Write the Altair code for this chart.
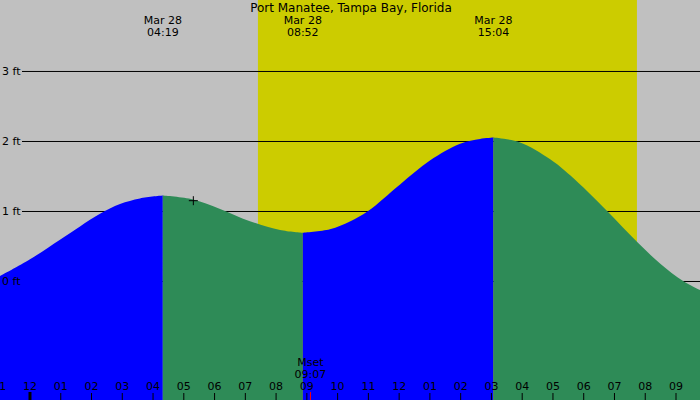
import altair as alt
import pandas as pd

# ---- data ----
title_text = "Port Manatee, Tampa Bay, Florida"
x_min, x_max = -0.975, 21.78       # hours relative to midnight Mar 28
y_min, y_max = -1.7, 4.014         # feet

rise1_h = [-0.975, 0.0, 0.975, 1.626, 2.276, 2.926, 3.576, 4.317]
rise1_ft = [0.07, 0.31, 0.59, 0.78, 0.96, 1.10, 1.18, 1.22]
fall1_h = [4.317, 5.30, 6.18, 7.15, 8.13, 8.867]
fall1_ft = [1.22, 1.165, 1.03, 0.855, 0.73, 0.69]
rise2_h = [8.867, 9.75, 10.40, 10.99, 12.03, 13.00, 13.98, 14.63, 15.067]
rise2_ft = [0.69, 0.74, 0.85, 1.00, 1.38, 1.72, 1.96, 2.03, 2.05]
fall2_h = [15.067, 15.93, 16.91, 17.56, 18.76, 19.73, 20.48, 21.23, 21.78]
fall2_ft = [2.05, 1.98, 1.74, 1.51, 1.00, 0.56, 0.25, 0.00, -0.13]

sunrise_h, sunset_h = 7.41, 19.73

event_h = [4.317, 8.867, 15.067]
event_date = ["Mar 28", "Mar 28", "Mar 28"]
event_time = ["04:19", "08:52", "15:04"]

grid_ft = [3, 2, 1, 0]
grid_labels = ["3 ft", "2 ft", "1 ft", "0 ft"]

hour_ticks = list(range(-1, 22))
midnight_h = [0]

moonset_h = 9.117
moonset_label = ["Mset", "09:07"]

marker_h, marker_ft = 5.31, 1.147

# ---- tables ----
rows = []
for seg, (hs, fs, kind) in enumerate([(rise1_h, rise1_ft, "rise"), (fall1_h, fall1_ft, "fall"),
                                       (rise2_h, rise2_ft, "rise"), (fall2_h, fall2_ft, "fall")]):
    for h, f in zip(hs, fs):
        rows.append({"h": h, "ft": f, "base": y_min, "seg": seg, "kind": kind})
tide = pd.DataFrame(rows)

xs = alt.Scale(domain=[x_min, x_max], nice=False, zero=False)
ys = alt.Scale(domain=[y_min, y_max], nice=False, zero=False)
FONT = "DejaVu Sans"
colors = {"rise": "#0000FF", "fall": "#2E8B57"}

day = alt.Chart(pd.DataFrame({"a": [sunrise_h], "b": [sunset_h]})).mark_rect(color="#CCCC00").encode(
    x=alt.X("a:Q", scale=xs, axis=None), x2="b:Q", y=alt.value(0), y2=alt.value(400))

grid = alt.Chart(pd.DataFrame({"ft": grid_ft})).mark_rule(color="black", strokeWidth=1, yOffset=0.5).encode(
    y=alt.Y("ft:Q", scale=ys, axis=None), x=alt.value(22), x2=alt.value(700))

areas = []
for seg in range(4):
    sub = tide[tide.seg == seg]
    kind = sub.kind.iloc[0]
    areas.append(
        alt.Chart(sub).mark_area(interpolate="catmull-rom", color=colors[kind], opacity=1).encode(
            x=alt.X("h:Q", scale=xs, axis=None),
            y=alt.Y("ft:Q", scale=ys, axis=None),
            y2="base:Q",
        )
    )

ylab = alt.Chart(pd.DataFrame({"ft": grid_ft, "t": grid_labels})).mark_text(
    align="left", baseline="alphabetic", dy=4, font=FONT, fontSize=11, color="black").encode(
    x=alt.value(2), y=alt.Y("ft:Q", scale=ys, axis=None), text="t:N")

ticks = alt.Chart(pd.DataFrame({"h": hour_ticks})).mark_rule(color="black", strokeWidth=1).encode(
    x=alt.X("h:Q", scale=xs, axis=None), y=alt.value(393), y2=alt.value(400))

mid = alt.Chart(pd.DataFrame({"h": midnight_h})).mark_rule(color="black", strokeWidth=3).encode(
    x=alt.X("h:Q", scale=xs, axis=None), y=alt.value(392), y2=alt.value(400))

hlab = alt.Chart(pd.DataFrame({"h": hour_ticks})).transform_calculate(
    v="((datum.h + 11) % 12 + 12) % 12 + 1"
).transform_calculate(
    lab="(datum.v < 10 ? '0' : '') + datum.v"
).mark_text(align="center", baseline="alphabetic", font=FONT, fontSize=11, color="black").encode(
    x=alt.X("h:Q", scale=xs, axis=None), y=alt.value(390), text="lab:N")

mset_tick = alt.Chart(pd.DataFrame({"h": [moonset_h]})).mark_rule(color="red", strokeWidth=1).encode(
    x=alt.X("h:Q", scale=xs, axis=None), y=alt.value(392), y2=alt.value(400))

mset_txt = alt.Chart(pd.DataFrame({"h": [moonset_h, moonset_h], "t": moonset_label, "yy": [366, 378]})).mark_text(
    align="center", baseline="alphabetic", font=FONT, fontSize=11, color="black").encode(
    x=alt.X("h:Q", scale=xs, axis=None), y=alt.Y("yy:Q", scale=None), text="t:N")

ev = pd.DataFrame({"h": event_h, "d": event_date, "t": event_time})
ev_date = alt.Chart(ev).mark_text(align="center", baseline="alphabetic", font=FONT, fontSize=11, color="black").encode(
    x=alt.X("h:Q", scale=xs, axis=None), y=alt.value(24), text="d:N")
ev_time = alt.Chart(ev).mark_text(align="center", baseline="alphabetic", font=FONT, fontSize=11, color="black").encode(
    x=alt.X("h:Q", scale=xs, axis=None), y=alt.value(36), text="t:N")

title = alt.Chart(pd.DataFrame({"t": [title_text]})).mark_text(
    align="center", baseline="alphabetic", font=FONT, fontSize=12, color="black").encode(
    x=alt.value(351), y=alt.value(12), text="t:N")

marker = alt.Chart(pd.DataFrame({"h": [marker_h], "ft": [marker_ft]})).mark_point(
    shape="M-1,0L1,0M0,-1L0,1", size=81, filled=False, color="black", strokeWidth=1, opacity=1).encode(
    x=alt.X("h:Q", scale=xs, axis=None), y=alt.Y("ft:Q", scale=ys, axis=None))

chart = alt.layer(day, grid, *areas, ylab, ticks, mid, mset_tick, hlab, mset_txt, ev_date, ev_time, title, marker).properties(
    width=700, height=400, padding=0, autosize="none", background="#C0C0C0"
).configure_view(stroke=None, fill="#C0C0C0")

chart.save("out.html", embed_options={"renderer": "svg", "actions": False})
